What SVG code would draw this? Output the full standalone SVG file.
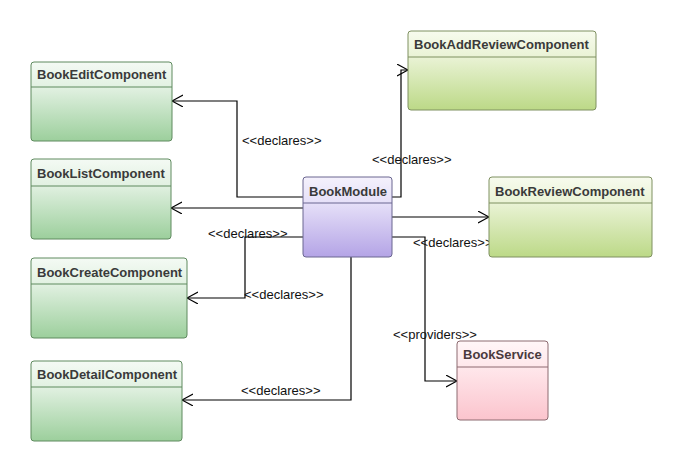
<svg xmlns="http://www.w3.org/2000/svg" width="681" height="470" viewBox="0 0 681 470">
<style>
.t{font-family:"Liberation Sans",Arial,sans-serif;font-size:13px;font-weight:bold;fill:#3a3a3a}
.l{font-family:"Liberation Sans",Arial,sans-serif;font-size:13px;fill:#111}
.c{fill:none;stroke:#000;stroke-width:1.2}
.g{stroke:#5f8a5f;stroke-width:1}
.y{stroke:#7f9060;stroke-width:1}
.p{stroke:#6a6690;stroke-width:1}
.r{stroke:#8c6a70;stroke-width:1}
</style>
<defs>
<linearGradient id="gg" x1="0" y1="0" x2="0" y2="1"><stop offset="0" stop-color="#f4faf4"/><stop offset="0.32" stop-color="#e2f1e2"/><stop offset="1" stop-color="#9ccf9c"/></linearGradient>
<linearGradient id="gy" x1="0" y1="0" x2="0" y2="1"><stop offset="0" stop-color="#f7fbee"/><stop offset="0.32" stop-color="#eaf3d6"/><stop offset="1" stop-color="#bcd987"/></linearGradient>
<linearGradient id="gp" x1="0" y1="0" x2="0" y2="1"><stop offset="0" stop-color="#f4f1fc"/><stop offset="0.32" stop-color="#e6e0f8"/><stop offset="1" stop-color="#b4a4e6"/></linearGradient>
<linearGradient id="gr" x1="0" y1="0" x2="0" y2="1"><stop offset="0" stop-color="#fff6f7"/><stop offset="0.32" stop-color="#ffe8ec"/><stop offset="1" stop-color="#fbc4cd"/></linearGradient>
<marker id="a" markerWidth="14" markerHeight="14" refX="11" refY="6" orient="auto" markerUnits="userSpaceOnUse"><path d="M0,0 L11,6 L0,12" fill="none" stroke="#000" stroke-width="1.1"/></marker>
</defs>
<g id="connectors">
<polyline class="c" points="303,197 237,197 237,101 172,101" marker-end="url(#a)"/>
<polyline class="c" points="303,208 171,208" marker-end="url(#a)"/>
<polyline class="c" points="303,237 245,237 245,298 187,298" marker-end="url(#a)"/>
<polyline class="c" points="351,257 351,400 182,400" marker-end="url(#a)"/>
<polyline class="c" points="392,197 401,197 401,70 408,70" marker-end="url(#a)"/>
<polyline class="c" points="392,217 489,217" marker-end="url(#a)"/>
<polyline class="c" points="392,237 425,237 425,381 457,381" marker-end="url(#a)"/>
<text class="l" x="242" y="145">&lt;&lt;declares&gt;&gt;</text>
<text class="l" x="372" y="164">&lt;&lt;declares&gt;&gt;</text>
<text class="l" x="208" y="238">&lt;&lt;declares&gt;&gt;</text>
<text class="l" x="413" y="247">&lt;&lt;declares&gt;&gt;</text>
<text class="l" x="244" y="299">&lt;&lt;declares&gt;&gt;</text>
<text class="l" x="393" y="339">&lt;&lt;providers&gt;&gt;</text>
<text class="l" x="241" y="395">&lt;&lt;declares&gt;&gt;</text>
</g>
<g id="BookEditComponent">
<rect class="g" x="31" y="62" width="141" height="79" rx="3" fill="url(#gg)"/>
<line class="g" x1="31" y1="87" x2="172" y2="87"/>
<text class="t" x="37" y="79">BookEditComponent</text>
</g>
<g id="BookListComponent">
<rect class="g" x="31" y="159" width="140" height="80" rx="3" fill="url(#gg)"/>
<line class="g" x1="31" y1="186" x2="171" y2="186"/>
<text class="t" x="37" y="178">BookListComponent</text>
</g>
<g id="BookCreateComponent">
<rect class="g" x="31" y="258" width="156" height="80" rx="3" fill="url(#gg)"/>
<line class="g" x1="31" y1="284" x2="187" y2="284"/>
<text class="t" x="37" y="277">BookCreateComponent</text>
</g>
<g id="BookDetailComponent">
<rect class="g" x="31" y="361" width="151" height="80" rx="3" fill="url(#gg)"/>
<line class="g" x1="31" y1="387" x2="182" y2="387"/>
<text class="t" x="37" y="379">BookDetailComponent</text>
</g>
<g id="BookModule">
<rect class="p" x="303" y="177" width="89" height="80" rx="3" fill="url(#gp)"/>
<line class="p" x1="303" y1="203" x2="392" y2="203"/>
<text class="t" x="309" y="196">BookModule</text>
</g>
<g id="BookAddReviewComponent">
<rect class="y" x="408" y="31" width="188" height="79" rx="3" fill="url(#gy)"/>
<line class="y" x1="408" y1="57" x2="596" y2="57"/>
<text class="t" x="414" y="49">BookAddReviewComponent</text>
</g>
<g id="BookReviewComponent">
<rect class="y" x="489" y="177" width="163" height="80" rx="3" fill="url(#gy)"/>
<line class="y" x1="489" y1="203" x2="652" y2="203"/>
<text class="t" x="495" y="196">BookReviewComponent</text>
</g>
<g id="BookService">
<rect class="r" x="457" y="341" width="91" height="79" rx="3" fill="url(#gr)"/>
<line class="r" x1="457" y1="367" x2="548" y2="367"/>
<text class="t" x="463" y="359" style="fill:#4a3a3e">BookService</text>
</g>
</svg>
